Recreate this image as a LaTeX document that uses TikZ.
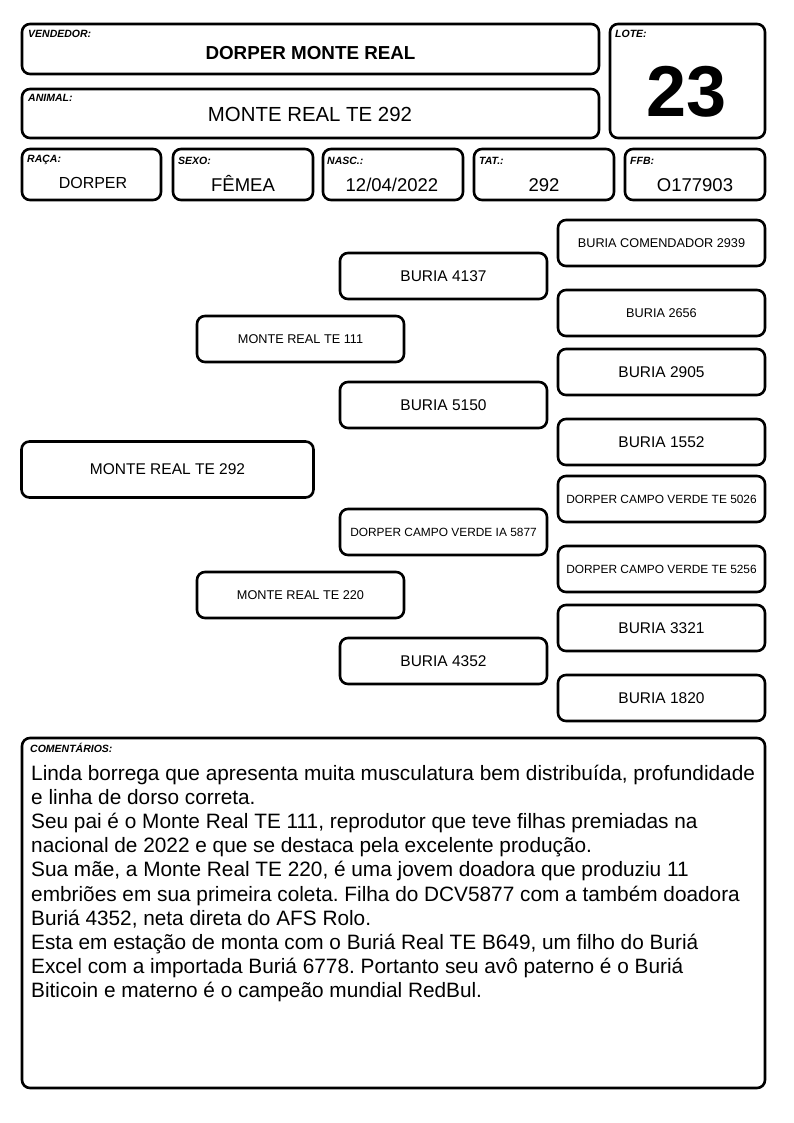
\documentclass[tikz,border=0pt]{standalone}
\usepackage{fontspec}
\setmainfont{Liberation Sans}
\frenchspacing
\newcommand{\fsz}[1]{\fontsize{#1}{#1}\selectfont}
\tikzset{
  card/.style={draw, line width=2.6pt, rounded corners=8pt, inner sep=0pt},
  lbl/.style={font=\fsz{10.5}\bfseries\itshape, anchor=base west, inner sep=0pt},
  val/.style={anchor=base, inner sep=0pt},
  pbox/.style={card, minimum width=207pt, minimum height=46pt, align=center},
  big/.style={font=\fsz{15.5}},
  small/.style={font=\fsz{12.7}},
  tiny/.style={font=\fsz{11.9}},
  cline/.style={anchor=base west, inner sep=0pt, font=\fsz{20.8}}
}
\begin{document}
\begin{tikzpicture}[x=1pt,y=-1pt]
\useasboundingbox[fill=white] (0,0) rectangle (794,1123);

% header cards
\draw[card] (22,24) rectangle (599,74);
\node[lbl] (vendl) at (28,38) {VENDEDOR:};
\node[val, font=\fsz{18.8}\bfseries] (vendv) at (310.5,59.5) {DORPER MONTE REAL};

\draw[card] (22,89) rectangle (599,138);
\node[lbl] (animl) at (28,102) {ANIMAL:};
\node[val, font=\fsz{20.4}] (animv) at (310,122) {MONTE REAL TE 292};

\draw[card] (610,24) rectangle (765,138);
\node[lbl] (lotel) at (615,38) {LOTE:};
\node[val, font=\fsz{72}\bfseries] (lotev) at (687,117) {23};

% row of small cards
\draw[card] (22,149) rectangle (161,200);
\node[lbl] (racal) at (27,163) {RAÇA:};
\node[val, font=\fsz{16}] (racav) at (93,188.5) {DORPER};

\draw[card] (173,149) rectangle (313,200);
\node[lbl] (sexol) at (178,165) {SEXO:};
\node[val, font=\fsz{18.5}] (sexov) at (243,191.5) {FÊMEA};

\draw[card] (323,149) rectangle (463,200);
\node[lbl] (nascl) at (327,165) {NASC.:};
\node[val, font=\fsz{18.5}] (nascv) at (392,191.5) {12/04/2022};

\draw[card] (474,149) rectangle (614,200);
\node[lbl] (tatl) at (479,165) {TAT.:};
\node[val, font=\fsz{18.5}] (tatv) at (544,192) {292};

\draw[card] (625,149) rectangle (765,200);
\node[lbl] (ffbl) at (630,165) {FFB:};
\node[val, font=\fsz{18.5}] (ffbv) at (695,192) {O177903};

% pedigree
\node[pbox, minimum width=292pt, minimum height=56pt, big] (root) at (167.5,469.5) {MONTE REAL TE 292};

\node[pbox, small] (p) at (300.5,339) {MONTE REAL TE 111};
\node[pbox, small] (m) at (300.5,595) {MONTE REAL TE 220};

\node[pbox, big] (pp) at (443.5,276) {BURIA 4137};
\node[pbox, big] (pm) at (443.5,405) {BURIA 5150};
\node[pbox, tiny] (mp) at (443.5,532) {DORPER CAMPO VERDE IA 5877};
\node[pbox, big] (mm) at (443.5,661) {BURIA 4352};

\node[pbox, small] (ppp) at (661.5,243) {BURIA COMENDADOR 2939};
\node[pbox, small] (ppm) at (661.5,313) {BURIA 2656};
\node[pbox, big] (pmp) at (661.5,372) {BURIA 2905};
\node[pbox, big] (pmm) at (661.5,442) {BURIA 1552};
\node[pbox, tiny] (mpp) at (661.5,499) {DORPER CAMPO VERDE TE 5026};
\node[pbox, tiny] (mpm) at (661.5,569) {DORPER CAMPO VERDE TE 5256};
\node[pbox, big] (mmp) at (661.5,628) {BURIA 3321};
\node[pbox, big] (mmm) at (661.5,698) {BURIA 1820};

% comments
\draw[card] (22,738) rectangle (765,1088);
\node[lbl] (coml) at (30,752) {COMENTÁRIOS:};
\foreach \t [count=\i from 0] in {
  {Linda borrega que apresenta muita musculatura bem distribuída, profundidade},
  {e linha de dorso correta.},
  {Seu pai é o Monte Real TE 111, reprodutor que teve filhas premiadas na},
  {nacional de 2022 e que se destaca pela excelente produção.},
  {Sua mãe, a Monte Real TE 220, é uma jovem doadora que produziu 11},
  {embriões em sua primeira coleta. Filha do DCV5877 com a também doadora},
  {Buriá 4352, neta direta do AFS Rolo.},
  {Esta em estação de monta com o Buriá Real TE B649, um filho do Buriá},
  {Excel com a importada Buriá 6778. Portanto seu avô paterno é o Buriá},
  {Biticoin e materno é o campeão mundial RedBul.}}
  \node[cline] (c\i) at (31,780+24.2*\i) {\t};
\end{tikzpicture}
\end{document}
